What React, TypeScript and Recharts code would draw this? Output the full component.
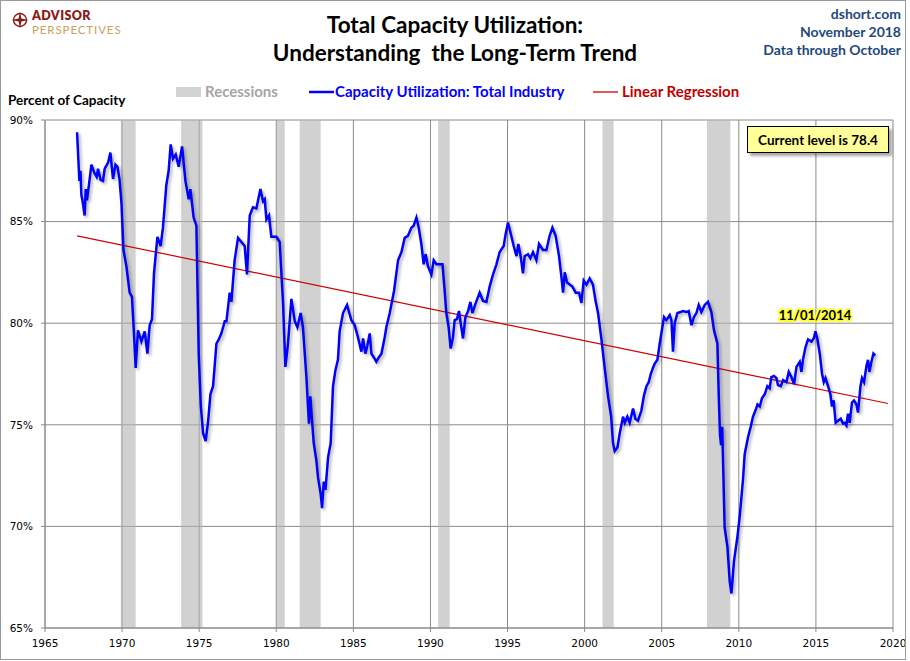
import { LineChart, Line, XAxis, YAxis, CartesianGrid, ReferenceArea } from 'recharts';

const xTicks = [1965, 1970, 1975, 1980, 1985, 1990, 1995, 2000, 2005, 2010, 2015, 2020];
const yTicks = [65, 70, 75, 80, 85, 90];

// Capacity utilization (year fraction, percent)
const capYears = [
    1967.08, 1967.23, 1967.3, 1967.36, 1967.43, 1967.57, 1967.64, 1967.72, 1967.85, 1968.01,
    1968.2, 1968.35, 1968.44, 1968.61, 1968.76, 1968.87, 1969.09, 1969.24, 1969.41, 1969.57,
    1969.7, 1969.83, 1969.96, 1970.09, 1970.28, 1970.49, 1970.64, 1970.77, 1970.88, 1971.03,
    1971.25, 1971.47, 1971.64, 1971.79, 1971.94, 1972.07, 1972.29, 1972.5, 1972.65, 1972.87,
    1973.02, 1973.15, 1973.3, 1973.48, 1973.67, 1973.89, 1974.11, 1974.32, 1974.43, 1974.64,
    1974.82, 1974.97, 1975.1, 1975.25, 1975.42, 1975.57, 1975.73, 1975.9, 1976.12, 1976.27,
    1976.44, 1976.66, 1976.77, 1976.98, 1977.09, 1977.3, 1977.52, 1977.74, 1977.95, 1978.1,
    1978.28, 1978.49, 1978.71, 1978.97, 1979.14, 1979.25, 1979.36, 1979.53, 1979.68, 1980.01,
    1980.22, 1980.44, 1980.59, 1980.76, 1980.98, 1981.2, 1981.37, 1981.58, 1981.73, 1981.95,
    1982.12, 1982.21, 1982.32, 1982.43, 1982.6, 1982.71, 1982.88, 1982.97, 1983.08, 1983.19,
    1983.36, 1983.53, 1983.68, 1983.84, 1984.0, 1984.11, 1984.33, 1984.59, 1984.87, 1985.09,
    1985.3, 1985.52, 1985.63, 1985.78, 1985.91, 1986.06, 1986.17, 1986.34, 1986.49, 1986.64,
    1986.82, 1987.03, 1987.14, 1987.36, 1987.64, 1987.9, 1988.12, 1988.33, 1988.54, 1988.76,
    1988.91, 1989.09, 1989.24, 1989.41, 1989.56, 1989.69, 1989.84, 1990.06, 1990.21, 1990.39,
    1990.6, 1990.78, 1990.92, 1991.03, 1991.18, 1991.31, 1991.46, 1991.57, 1991.72, 1991.85,
    1991.96, 1992.11, 1992.27, 1992.44, 1992.59, 1992.72, 1992.94, 1993.19, 1993.41, 1993.63,
    1993.84, 1994.06, 1994.28, 1994.49, 1994.75, 1994.88, 1995.03, 1995.21, 1995.4, 1995.58,
    1995.7, 1995.85, 1996.0, 1996.11, 1996.33, 1996.48, 1996.65, 1996.87, 1997.04, 1997.3,
    1997.52, 1997.73, 1997.91, 1998.12, 1998.34, 1998.49, 1998.6, 1998.71, 1998.86, 1999.03,
    1999.21, 1999.42, 1999.64, 1999.79, 1999.94, 2000.12, 2000.33, 2000.54, 2000.72, 2000.87,
    2001.09, 2001.3, 2001.52, 2001.72, 2001.84, 2001.95, 2002.13, 2002.28, 2002.49, 2002.6,
    2002.77, 2002.92, 2003.14, 2003.29, 2003.46, 2003.68, 2003.85, 2004.01, 2004.16, 2004.29,
    2004.43, 2004.54, 2004.72, 2004.87, 2005.02, 2005.15, 2005.3, 2005.52, 2005.63, 2005.73,
    2005.84, 2006.02, 2006.23, 2006.38, 2006.6, 2006.75, 2006.93, 2007.09, 2007.25, 2007.4,
    2007.57, 2007.79, 2008.0, 2008.22, 2008.39, 2008.61, 2008.7, 2008.78, 2008.85, 2008.92,
    2009.0, 2009.08, 2009.26, 2009.41, 2009.52, 2009.69, 2009.91, 2010.06, 2010.27, 2010.38,
    2010.6, 2010.77, 2010.92, 2011.08, 2011.21, 2011.36, 2011.5, 2011.68, 2011.85, 2012.0,
    2012.11, 2012.28, 2012.44, 2012.54, 2012.72, 2012.87, 2013.09, 2013.24, 2013.41, 2013.58,
    2013.74, 2013.95, 2014.06, 2014.16, 2014.32, 2014.49, 2014.71, 2014.86, 2014.97, 2015.1,
    2015.25, 2015.4, 2015.51, 2015.62, 2015.79, 2015.94, 2016.04, 2016.15, 2016.28, 2016.43,
    2016.61, 2016.76, 2016.87, 2016.98, 2017.08, 2017.19, 2017.34, 2017.47, 2017.63, 2017.73,
    2017.89, 2017.99, 2018.12, 2018.28, 2018.38, 2018.47, 2018.6, 2018.73, 2018.85,
];
const capValues = [
    89.4, 87.0, 87.5, 86.3, 86.05, 85.3, 86.6, 86.05, 86.8, 87.8,
    87.4, 87.2, 87.6, 87.05, 87.0, 87.6, 87.9, 88.4, 87.1, 87.8,
    87.7, 87.1, 85.9, 83.6, 82.8, 81.5, 81.3, 79.5, 77.8, 79.65,
    79.1, 79.6, 78.5, 79.9, 80.2, 82.45, 84.25, 83.8, 84.7, 86.8,
    87.5, 88.8, 88.1, 88.3, 87.7, 88.7, 87.0, 86.1, 86.6, 85.2,
    84.8, 78.5, 76.0, 74.6, 74.2, 75.1, 76.5, 76.9, 79.0, 79.2,
    79.5, 80.1, 80.1, 81.5, 81.05, 83.1, 84.2, 84.0, 83.8, 82.4,
    85.3, 85.7, 85.65, 86.6, 86.0, 86.1, 85.1, 85.3, 84.25, 84.25,
    84.0, 81.0, 77.85, 79.0, 81.2, 80.1, 79.8, 80.5, 79.8, 77.4,
    75.06, 76.4, 75.2, 74.1, 73.25, 72.4, 71.6, 70.9, 72.2, 71.8,
    73.4, 74.1, 76.9, 77.7, 78.2, 79.6, 80.5, 80.9, 80.15, 79.9,
    79.3, 78.6, 79.25, 78.5, 78.9, 79.5, 78.5, 78.3, 78.1, 78.3,
    78.5, 79.3, 79.8, 80.5, 81.6, 83.1, 83.5, 84.2, 84.3, 84.7,
    84.8, 85.2, 84.7, 83.9, 82.9, 83.4, 82.8, 82.4, 83.1, 82.9,
    82.9, 82.9, 81.6, 80.5, 79.8, 78.75, 79.3, 80.15, 80.2, 80.6,
    80.0, 79.25, 80.3, 80.6, 81.05, 80.5, 81.0, 81.5, 81.1, 81.05,
    81.8, 82.4, 82.9, 83.5, 83.8, 84.4, 84.95, 84.4, 83.8, 83.3,
    83.9, 83.3, 82.45, 83.3, 83.4, 83.2, 83.5, 83.1, 83.9, 83.6,
    83.6, 84.3, 84.7, 84.3, 83.3, 82.3, 81.5, 82.5, 82.0, 81.9,
    81.8, 81.5, 81.5, 81.0, 82.1, 81.9, 82.2, 81.9, 81.05, 80.5,
    79.2, 77.8, 76.4, 75.4, 74.1, 73.7, 73.9, 74.6, 75.4, 75.1,
    75.4, 75.1, 75.8, 75.3, 75.2, 75.7, 76.45, 76.9, 77.1, 77.5,
    77.8, 78.0, 78.2, 79.0, 79.7, 80.3, 80.15, 80.4, 80.15, 78.6,
    80.0, 80.5, 80.55, 80.6, 80.55, 80.6, 79.9, 80.3, 80.5, 80.9,
    80.55, 80.9, 81.05, 80.55, 79.65, 79.0, 76.4, 74.5, 74.0, 74.9,
    72.5, 69.95, 69.0, 67.3, 66.7, 68.3, 69.5, 70.5, 72.3, 73.55,
    74.4, 74.9, 75.4, 75.7, 76.0, 75.9, 76.3, 76.5, 76.9, 76.8,
    77.35, 77.4, 77.3, 76.95, 76.9, 77.2, 77.1, 77.6, 77.35, 77.0,
    77.85, 78.1, 77.6, 78.2, 78.8, 79.2, 79.1, 79.25, 79.6, 79.2,
    78.5, 77.5, 77.1, 77.3, 76.9, 76.5, 75.9, 76.2, 75.1, 75.2,
    75.3, 75.06, 75.1, 74.97, 75.55, 75.1, 76.1, 76.2, 76.0, 75.6,
    76.9, 77.3, 77.1, 77.9, 78.2, 77.6, 78.1, 78.5, 78.4,
];

// Linear regression end points
const trendYears = [1967.08, 2019.68];
const trendValues = [84.3, 76.05];

// NBER recessions
const recessionStarts = [1969.92, 1973.83, 1980.02, 1981.52, 1990.5, 2001.16, 2007.93];
const recessionEnds = [1970.88, 1975.21, 1980.55, 1982.88, 1991.25, 2001.88, 2009.45];

const capData = capYears.map((year, i) => ({ year, value: capValues[i] }));
const trendData = trendYears.map((year, i) => ({ year, value: trendValues[i] }));

const LABEL_FONT = 'Lato, "Open Sans", sans-serif';
const TICK_FONT = '"DejaVu Sans", Verdana, sans-serif';

export default function App() {
    return (
        <div style={{ position: 'relative', width: 910, height: 661, background: '#fff' }}>
            <style>{`
                body { margin: 0; }
                .cu-line path { filter: drop-shadow(2px 2.5px 1.5px rgba(0, 0, 0, 0.3)); }
            `}</style>

            <div style={{ position: 'absolute', left: 0, top: 0 }}>
                <LineChart width={910} height={661} margin={{ top: 120, right: 17, bottom: 3, left: 5 }}>
                    <CartesianGrid stroke='#8a8a8a' strokeWidth={1} />
                    {recessionStarts.map((start, i) => (
                        <ReferenceArea
                            key={start}
                            x1={start}
                            x2={recessionEnds[i]}
                            y1={65}
                            y2={90}
                            fill='#b2b2b2'
                            fillOpacity={0.6}
                            strokeWidth={0}
                        />
                    ))}
                    <XAxis
                        type='number'
                        dataKey='year'
                        domain={[1965, 2020]}
                        ticks={xTicks}
                        allowDataOverflow
                        height={30}
                        stroke='#8a8a8a'
                        tickSize={4}
                        tickMargin={8}
                        tick={{ fontSize: 10.5, fill: '#000', fontFamily: TICK_FONT }}
                    />
                    <YAxis
                        type='number'
                        domain={[65, 90]}
                        ticks={yTicks}
                        width={40}
                        stroke='#8a8a8a'
                        tickSize={4}
                        tickMargin={8}
                        tickFormatter={(v) => `${v}%`}
                        tick={{ fontSize: 10.5, fill: '#000', fontFamily: TICK_FONT }}
                    />
                    <Line
                        data={trendData}
                        dataKey='value'
                        stroke='#d00000'
                        strokeWidth={1.2}
                        dot={false}
                        isAnimationActive={false}
                    />
                    <Line
                        className='cu-line'
                        data={capData}
                        dataKey='value'
                        stroke='#0000ff'
                        strokeWidth={2.5}
                        dot={false}
                        isAnimationActive={false}
                    />
                </LineChart>
            </div>

            {/* titles, legend and notes */}
            <svg
                width={910}
                height={661}
                style={{ position: 'absolute', left: 0, top: 0, pointerEvents: 'none', fontFamily: LABEL_FONT }}
            >
                <defs>
                    <filter id='boxShadow' x='-10%' y='-30%' width='130%' height='180%'>
                        <feDropShadow dx={3} dy={3} stdDeviation={1.5} floodColor='#000' floodOpacity={0.35} />
                    </filter>
                </defs>
                <rect x={0.5} y={0.5} width={905} height={659} fill='none' stroke='#9a9a9a' />

                {/* logo */}
                <circle cx={20} cy={20} r={6.5} fill='none' stroke='#8b1a1a' strokeWidth={1.4} />
                <path d='M20 11.5 L21.4 18.6 L28.5 20 L21.4 21.4 L20 28.5 L18.6 21.4 L11.5 20 L18.6 18.6 Z' fill='#8b1a1a' />
                <text x={32} y={19.5} fontSize={12.5} fontWeight={800} fill='#8b1a1a' letterSpacing={0.4}>ADVISOR</text>
                <text x={32} y={34} fontSize={11.5} fontWeight={400} fill='#c9a35a' letterSpacing={0.9}>PERSPECTIVES</text>

                <text x={455} y={33.3} textAnchor='middle' fontSize={22.5} fontWeight={700} fill='#000'>
                    Total Capacity Utilization:
                </text>
                <text x={455} y={61} textAnchor='middle' fontSize={22.5} fontWeight={700} fill='#000' xmlSpace='preserve'>
                    Understanding  the Long-Term Trend
                </text>

                <g textAnchor='end' fontSize={14} fontWeight={700} fill='#1f497d'>
                    <text x={901} y={18.5}>dshort.com</text>
                    <text x={901} y={37}>November 2018</text>
                    <text x={901} y={55}>Data through October</text>
                </g>

                <rect x={176} y={87} width={25} height={10} fill='#d3d3d3' />
                <text x={205} y={97.3} fontSize={15} fontWeight={700} fill='#a6a6a6'>Recessions</text>
                <line x1={309} x2={334} y1={92} y2={92} stroke='#0000ff' strokeWidth={2.5} />
                <text x={335} y={97.3} fontSize={15} fontWeight={700} fill='#0000ff'>Capacity Utilization: Total Industry</text>
                <line x1={593} x2={618} y1={92} y2={92} stroke='#d00000' strokeWidth={1.3} />
                <text x={622} y={97.3} fontSize={15} fontWeight={700} fill='#c00000'>Linear Regression</text>

                <text x={8} y={104.5} fontSize={13.5} fontWeight={700} fill='#000'>Percent of Capacity</text>

                <rect x={747.5} y={126.5} width={141} height={26} fill='#ffff99' stroke='#000' filter='url(#boxShadow)' />
                <text x={818} y={144.5} textAnchor='middle' fontSize={13.5} fontWeight={700} fill='#000'>
                    Current level is 78.4
                </text>

                <text
                    x={815}
                    y={320}
                    textAnchor='middle'
                    fontSize={13}
                    fontWeight={700}
                    fill='#000'
                    stroke='#ffff33'
                    strokeWidth={4}
                    strokeLinejoin='round'
                    paintOrder='stroke'
                >
                    11/01/2014
                </text>
            </svg>
        </div>
    );
}
